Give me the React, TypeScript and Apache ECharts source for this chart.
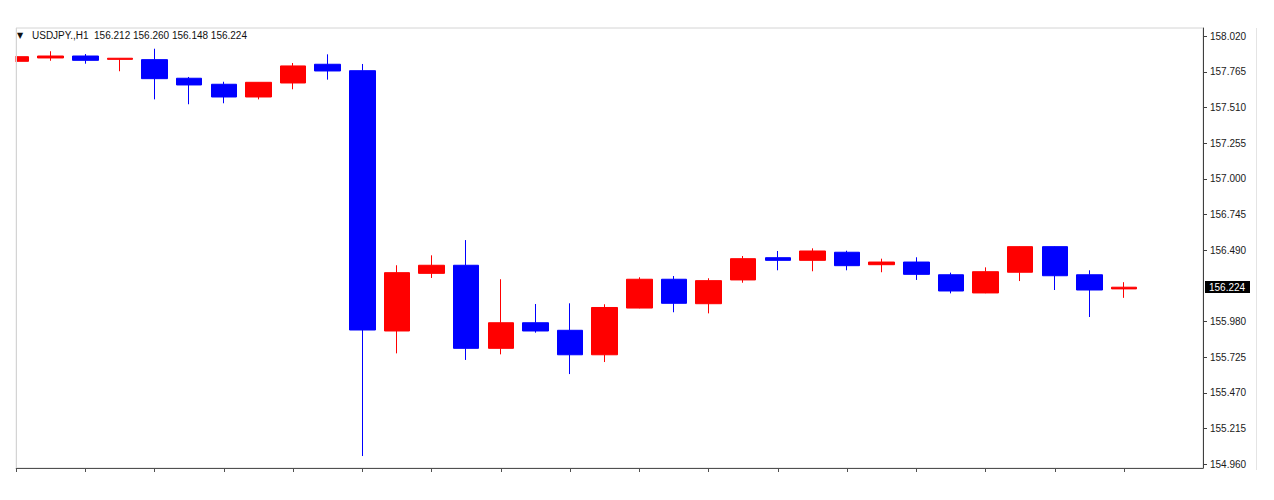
import React, { useEffect, useRef } from "react";
import * as echarts from "echarts";

// USDJPY., H1 candles (open, close, low, high), oldest first
const opens = [
  157.839, 157.863, 157.877, 157.853, 157.851, 157.718, 157.675, 157.584, 157.684, 157.818,
  157.772, 155.911, 156.323, 156.381, 155.787, 155.970, 155.916, 155.741, 156.075, 156.281,
  156.106, 156.276, 156.435, 156.416, 156.474, 156.385, 156.404, 156.313, 156.183, 156.331,
  156.514, 156.313, 156.212,
];
const closes = [
  157.872, 157.877, 157.846, 157.861, 157.715, 157.670, 157.584, 157.689, 157.806, 157.770,
  155.918, 156.328, 156.381, 155.787, 155.970, 155.911, 155.741, 156.079, 156.281, 156.109,
  156.271, 156.428, 156.416, 156.483, 156.378, 156.404, 156.316, 156.197, 156.335, 156.514,
  156.306, 156.204, 156.224,
];
const lows = [
  157.835, 157.843, 157.822, 157.768, 157.567, 157.532, 157.539, 157.567, 157.639, 157.708,
  155.017, 155.751, 156.290, 155.704, 155.744, 155.899, 155.603, 155.689, 156.073, 156.045,
  156.037, 156.256, 156.345, 156.338, 156.345, 156.331, 156.276, 156.180, 156.181, 156.268,
  156.204, 156.011, 156.148,
];
const highs = [
  157.876, 157.911, 157.891, 157.862, 157.929, 157.727, 157.693, 157.690, 157.827, 157.889,
  157.820, 156.381, 156.452, 156.561, 156.281, 156.104, 156.109, 156.102, 156.295, 156.304,
  156.288, 156.447, 156.483, 156.502, 156.485, 156.428, 156.438, 156.328, 156.366, 156.516,
  156.516, 156.345, 156.260,
];

const priceTicks = [
  158.02, 157.765, 157.51, 157.255, 157.0, 156.745, 156.49, 155.98, 155.725, 155.47, 155.215, 154.96,
];

const symbolName = "USDJPY.,H1";
const lastIdx = opens.length - 1;
const headerText = `${symbolName}  ${opens[lastIdx].toFixed(3)} ${highs[lastIdx].toFixed(3)} ${lows[lastIdx].toFixed(3)} ${closes[lastIdx].toFixed(3)}`;
const lastPrice = closes[lastIdx];

const timeTicks: number[] = [];
for (let i = 0; i < opens.length; i += 2) timeTicks.push(i);

export default function App() {
  const ref = useRef<HTMLDivElement>(null);

  useEffect(() => {
    if (!ref.current) return;
    const chart = echarts.init(ref.current, undefined, { renderer: "svg" });
    const data = opens.map((o, i) => [i, o, closes[i], lows[i], highs[i]]);
    const font = "'Liberation Sans', Arial, sans-serif";

    chart.setOption({
      animation: false,
      backgroundColor: "#ffffff",
      grid: {
        left: 16,
        right: 71,
        top: 28,
        bottom: 32,
        show: true,
        borderColor: "#d4d4d4",
        borderWidth: 1,
        backgroundColor: "transparent",
      },
      xAxis: {
        type: "value",
        min: 0,
        max: 34.28,
        axisLine: { show: true, onZero: false, lineStyle: { color: "#505050", width: 1 } },
        axisTick: { show: true, length: 4, customValues: timeTicks, lineStyle: { color: "#505050" } },
        axisLabel: { show: false, customValues: timeTicks },
        splitLine: { show: false },
      },
      yAxis: {
        type: "value",
        position: "right",
        min: 154.9315,
        max: 158.0772,
        axisLine: { show: true, onZero: false, lineStyle: { color: "#404040", width: 1 } },
        axisTick: { show: false },
        axisLabel: {
          show: true,
          customValues: priceTicks,
          margin: 7,
          color: "#1a1a1a",
          fontSize: 10,
          fontFamily: font,
          formatter: (v: number) => v.toFixed(3),
        },
        splitLine: { show: false },
      },
      series: [
        {
          type: "candlestick",
          data,
          encode: { x: 0, y: [1, 2, 3, 4] },
          barWidth: 26,
          clip: true,
          itemStyle: {
            color: "#ff0000",
            color0: "#0000ff",
            borderColor: "#ff0000",
            borderColor0: "#0000ff",
            borderWidth: 1,
          },
        },
      ],
      graphic: [
        {
          id: "leftCover",
          type: "rect",
          z: 50,
          shape: { x: 0, y: 20, width: 15.5, height: 460 },
          style: { fill: "#ffffff" },
        },
        {
          id: "leftBorder",
          type: "line",
          z: 51,
          shape: { x1: 16.5, y1: 28, x2: 16.5, y2: 468 },
          style: { stroke: "#d4d4d4", lineWidth: 1 },
        },
        {
          id: "arrow",
          type: "text",
          left: 17,
          top: 31,
          style: { text: "▼", fontSize: 8, fill: "#111", fontFamily: "DejaVu Sans" },
        },
        {
          id: "header",
          type: "text",
          left: 32,
          top: 30,
          style: { text: headerText, fontSize: 10, fill: "#111", fontFamily: font },
        },
        {
          id: "rightEdge",
          type: "line",
          shape: { x1: 1256.5, y1: 28, x2: 1256.5, y2: 470 },
          style: { stroke: "#e4e4e4", lineWidth: 1 },
        },
      ],
    });

    const py = chart.convertToPixel({ yAxisIndex: 0 }, lastPrice) as number;
    const axisX = chart.convertToPixel({ xAxisIndex: 0 }, 34.28) as number;
    const tickEls = priceTicks.map((v, i) => {
      const ty = Math.round(chart.convertToPixel({ yAxisIndex: 0 }, v) as number) + 0.5;
      return {
        id: "ytick" + i,
        type: "line",
        z: 55,
        shape: { x1: axisX, y1: ty, x2: axisX + 4, y2: ty },
        style: { stroke: "#404040", lineWidth: 1 },
      };
    });
    chart.setOption({
      graphic: [
        ...tickEls,
        {
          id: "priceBg",
          type: "rect",
          z: 60,
          shape: { x: axisX + 2, y: Math.round(py) - 6, width: 45, height: 12 },
          style: { fill: "#000000" },
        },
        {
          id: "priceText",
          type: "text",
          z: 61,
          x: axisX + 6,
          y: Math.round(py),
          style: {
            text: lastPrice.toFixed(3),
            fill: "#ffffff",
            fontSize: 10,
            fontFamily: font,
            verticalAlign: "middle",
            align: "left",
          },
        },
      ],
    });

    return () => chart.dispose();
  }, []);

  return (
    <div
      ref={ref}
      style={{ position: "fixed", left: 0, top: 0, width: 1274, height: 500, background: "#fff" }}
    />
  );
}
